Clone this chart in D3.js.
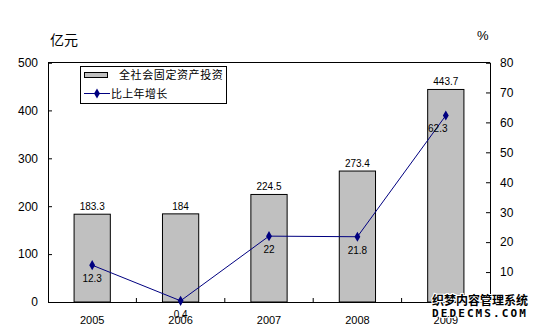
<!DOCTYPE html>
<html><head><meta charset="utf-8">
<script src="https://cdn.jsdelivr.net/npm/d3@7/dist/d3.min.js"></script>
<style>body{margin:0;background:#fff}svg{display:block}</style>
</head><body>
<svg id="c" width="540" height="327"></svg>
<script>
const years = ["2005","2006","2007","2008","2009"];
const investment = [183.3, 184, 224.5, 273.4, 443.7];
const growth = [12.3, 0.4, 22, 21.8, 62.3];
const investLabels = ["183.3","184","224.5","273.4","443.7"];
const growthLabels = ["12.3","0.4","22","21.8","62.3"];
const leftTicks = [0,100,200,300,400,500];
const rightTicks = [0,10,20,30,40,50,60,70,80];
const seriesNames = ["全社会固定资产投资","比上年增长"];

const svg = d3.select("#c");
const L = 48, R = 490, T = 62.5, B = 302;
const x = d3.scaleBand().domain(years).range([L, R]).paddingInner(0.59).paddingOuter(0.295);
const xb = d3.scaleBand().domain(years).range([L, R]);
const yL = d3.scaleLinear().domain([0, 500]).range([B, T]);
const yR = d3.scaleLinear().domain([0, 80]).range([B, T]);
const font = "Arial, 'Liberation Sans', sans-serif";
const cjk = "'Noto Sans CJK SC', sans-serif";

// frame top
svg.append("line").attr("x1", L).attr("x2", R).attr("y1", T).attr("y2", T).attr("stroke", "#000");

// bars
svg.selectAll("rect.bar").data(investment).enter().append("rect")
  .attr("x", (d,i) => x(years[i])).attr("width", x.bandwidth())
  .attr("y", d => yL(d)).attr("height", d => B - yL(d))
  .attr("fill", "#c0c0c0").attr("stroke", "#000").attr("stroke-width", 1);
svg.selectAll("text.bl").data(investment).enter().append("text")
  .attr("x", (d,i) => x(years[i]) + x.bandwidth()/2).attr("y", d => yL(d) - 4)
  .attr("text-anchor", "middle").attr("font-family", font).attr("font-size", 10)
  .text((d,i) => investLabels[i]);

// axes
const axL = d3.axisLeft(yL).tickValues(leftTicks).tickSize(-4).tickPadding(10);
const gL = svg.append("g").attr("transform", `translate(${L},0)`).call(axL);
const axR = d3.axisRight(yR).tickValues(rightTicks).tickSize(-4).tickPadding(10).tickFormat(d => d === 0 ? "" : d);
const gR = svg.append("g").attr("transform", `translate(${R},0)`).call(axR);
const axB = d3.axisBottom(xb).tickSize(0).tickPadding(14);
const gB = svg.append("g").attr("transform", `translate(0,${B})`).call(axB);
[gL, gR, gB].forEach(g => {
  g.select(".domain").attr("stroke", "#000");
  g.selectAll("line").attr("stroke", "#000");
  g.selectAll("text").attr("font-family", font).attr("font-size", 11).attr("fill", "#000");
});
gL.selectAll("text").attr("font-size", 12);
gR.selectAll("text").attr("font-size", 12);
// category boundary ticks (inward)
svg.selectAll("line.ct").data(years.slice(1)).enter().append("line")
  .attr("x1", d => xb(d)).attr("x2", d => xb(d)).attr("y1", B).attr("y2", B - 4).attr("stroke", "#000");

// line
const cx = (i) => xb(years[i]) + xb.bandwidth()/2;
const line = d3.line().x((d,i) => cx(i)).y(d => yR(d));
svg.append("path").datum(growth).attr("d", line).attr("fill", "none").attr("stroke", "#000080").attr("stroke-width", 1);
const diamond = d3.symbol().type(d3.symbolDiamond).size(30);
svg.selectAll("path.pt").data(growth).enter().append("path")
  .attr("d", diamond).attr("transform", (d,i) => `translate(${cx(i)},${yR(d)})`).attr("fill", "#000080");
svg.selectAll("text.gl").data(growth).enter().append("text")
  .attr("x", (d,i) => cx(i) - (i === 4 ? 8 : 0)).attr("y", d => yR(d) + 17)
  .attr("text-anchor", "middle").attr("font-family", font).attr("font-size", 10)
  .text((d,i) => growthLabels[i]);

// axis titles
svg.append("text").attr("x", 50).attr("y", 45).attr("font-family", cjk).attr("font-size", 14).text("亿元");
svg.append("text").attr("x", 477).attr("y", 40).attr("font-family", font).attr("font-size", 13).text("%");

// legend
const lg = svg.append("g");
lg.append("rect").attr("x", 80.5).attr("y", 66.5).attr("width", 146).attr("height", 37).attr("fill", "#fff").attr("stroke", "#000");
lg.append("rect").attr("x", 84.5).attr("y", 72.5).attr("width", 23).attr("height", 5).attr("fill", "#c0c0c0").attr("stroke", "#000");
lg.append("text").attr("x", 119).attr("y", 79).attr("font-family", cjk).attr("font-size", 11).attr("letter-spacing", 0.6).text(seriesNames[0]);
lg.append("line").attr("x1", 84).attr("x2", 110).attr("y1", 93.5).attr("y2", 93.5).attr("stroke", "#000080");
lg.append("path").attr("d", diamond).attr("transform", "translate(97,93.5)").attr("fill", "#000080");
lg.append("text").attr("x", 111).attr("y", 97.5).attr("font-family", cjk).attr("font-size", 11).attr("letter-spacing", 0.3).text(seriesNames[1]);

// watermark
const wm = svg.append("g");
wm.append("text").attr("x", 432).attr("y", 305).attr("font-family", cjk).attr("font-size", 12).attr("font-weight", "bold")
  .attr("stroke", "#fff").attr("stroke-width", 2).attr("paint-order", "stroke").attr("fill", "#000").text("织梦内容管理系统");
wm.append("text").attr("x", 432).attr("y", 317).attr("font-family", "'DejaVu Sans Mono', monospace").attr("font-size", 11).attr("font-weight", "bold")
  .attr("stroke", "#fff").attr("stroke-width", 2).attr("paint-order", "stroke").attr("fill", "#000").attr("letter-spacing", 2.1).text("DEDECMS.COM");
</script>
</body></html>
